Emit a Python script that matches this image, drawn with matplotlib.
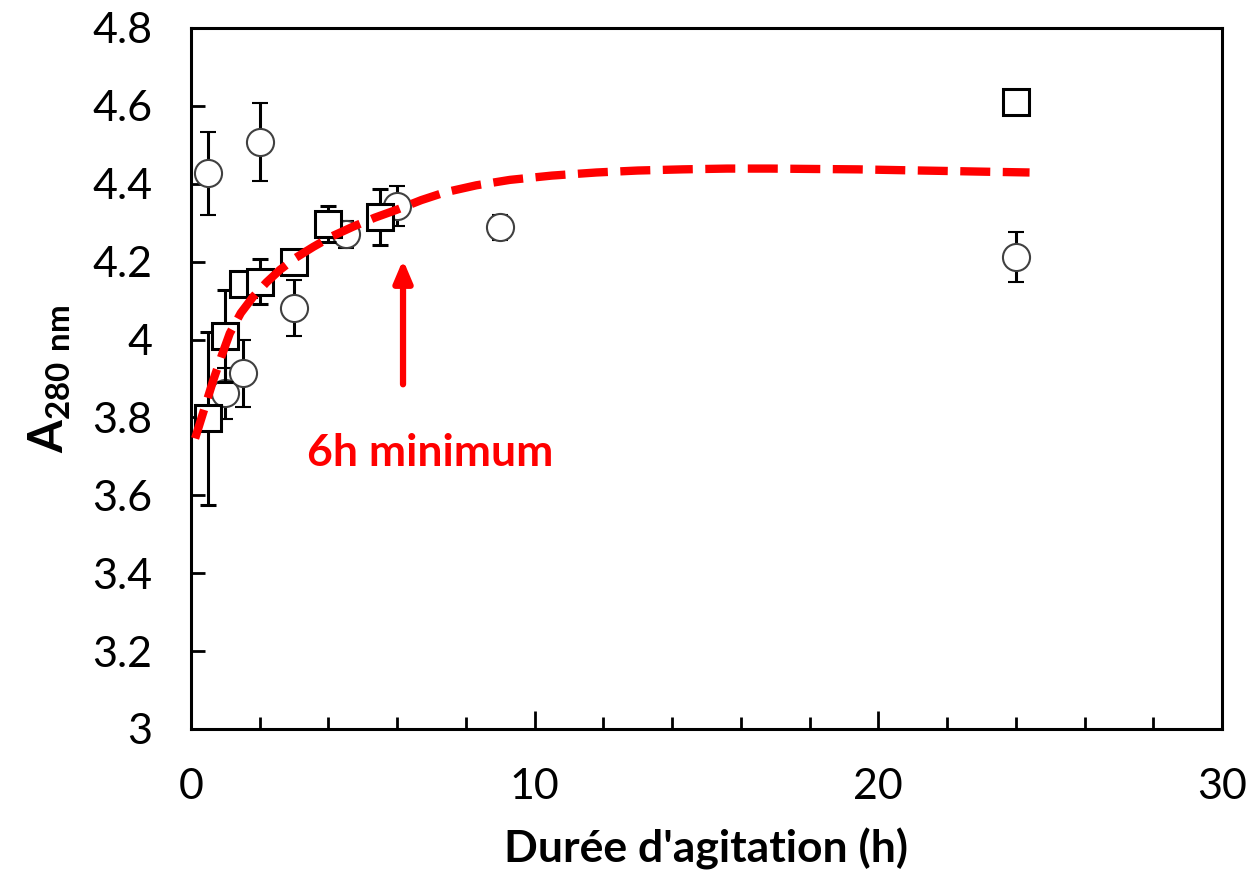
import matplotlib
matplotlib.use("Agg")
import matplotlib.pyplot as plt
from matplotlib.ticker import MultipleLocator

plt.rcParams['font.family'] = ['Lato', 'DejaVu Sans']
plt.rcParams['mathtext.fontset'] = 'custom'
plt.rcParams['mathtext.rm'] = 'Lato'
plt.rcParams['mathtext.bf'] = 'Lato:bold'

# Series 1: open circles
circ_x = [0.5, 1.0, 1.5, 2.0, 3.0, 4.5, 6.0, 9.0, 24.0]
circ_y = [4.427, 3.862, 3.913, 4.508, 4.080, 4.270, 4.343, 4.288, 4.212]
circ_err = [0.106, 0.066, 0.085, 0.100, 0.072, 0.035, 0.052, 0.033, 0.063]

# Series 2: open squares
sq_x = [0.5, 1.0, 1.5, 2.0, 3.0, 4.0, 5.5, 24.0]
sq_y = [3.798, 4.009, 4.143, 4.149, 4.200, 4.297, 4.314, 4.610]
sq_err = [0.222, 0.117, 0.030, 0.059, 0.020, 0.047, 0.072, 0.0]

# Fitted trend curve (dashed red)
curve_x = [0.12, 0.4, 0.65, 0.9, 1.13, 1.45, 1.81, 2.2, 2.59, 3.05, 3.56, 4.1, 4.72,
           5.35, 5.98, 6.7, 7.39, 8.3, 9.28, 10.5, 11.8, 13.0, 14.3, 15.6, 16.85,
           18.1, 19.4, 20.6, 21.9, 23.1, 24.4]
curve_y = [3.746, 3.825, 3.896, 3.960, 4.016, 4.068, 4.110, 4.147, 4.179, 4.210,
           4.238, 4.265, 4.290, 4.313, 4.333, 4.358, 4.378, 4.396, 4.410, 4.421,
           4.429, 4.434, 4.437, 4.439, 4.439, 4.438, 4.437, 4.435, 4.433, 4.431,
           4.429]

annot_text = "6h minimum"

fig = plt.figure(figsize=(12.49, 8.75), dpi=100)
ax = fig.add_axes([0.1529, 0.1669, 0.9784 - 0.1529, 0.968 - 0.1669])

ax.errorbar(circ_x, circ_y, yerr=circ_err, fmt='o', ms=19.5, mfc='white',
            mec='#404040', mew=1.5, ecolor='black', elinewidth=2.2,
            capsize=6, capthick=2.2, zorder=2)
ax.errorbar(sq_x, sq_y, yerr=sq_err, fmt='s', ms=19, mfc='white',
            mec='black', mew=2.2, ecolor='black', elinewidth=2.2,
            capsize=6, capthick=2.2, zorder=3)

line, = ax.plot(curve_x, curve_y, color='#ff0000', lw=6, zorder=5,
                solid_capstyle='butt', dash_capstyle='butt',
                solid_joinstyle='round', dash_joinstyle='round')
line.set_dashes([3.6, 1.5])

ax.annotate('', xy=(6.17, 4.205), xytext=(6.17, 3.885),
            arrowprops=dict(arrowstyle='-|>,head_length=1.3,head_width=0.55',
                            color='#ff0000', lw=4.5, shrinkA=0, shrinkB=0),
            zorder=6)
ax.text(6.95, 3.709, annot_text, color='#ff0000', fontsize=32,
        fontweight='bold', ha='center', va='center', zorder=6)

ax.set_xlim(0, 30)
ax.set_ylim(3, 4.8)
ax.xaxis.set_major_locator(MultipleLocator(10))
ax.xaxis.set_minor_locator(MultipleLocator(2))
ax.yaxis.set_major_locator(MultipleLocator(0.2))

def yfmt(v, pos):
    s = f"{v:.1f}"
    return s[:-2] if s.endswith('.0') else s
ax.yaxis.set_major_formatter(plt.FuncFormatter(yfmt))

ax.tick_params(axis='both', which='major', direction='in', labelsize=31,
               width=2, pad=28)
ax.tick_params(axis='x', which='major', length=13)
ax.tick_params(axis='y', which='major', length=10)
ax.tick_params(axis='x', which='minor', direction='in', length=9, width=2)
ax.tick_params(top=False, right=False, which='both')

for sp in ax.spines.values():
    sp.set_linewidth(2.2)

ax.set_xlabel("Durée d'agitation (h)", fontsize=32, fontweight='bold', labelpad=16)
ax.set_ylabel(r'$\mathbf{A}_{\mathbf{280\ nm}}$', fontsize=34, labelpad=14)

fig.savefig('out.png', dpi=100)
